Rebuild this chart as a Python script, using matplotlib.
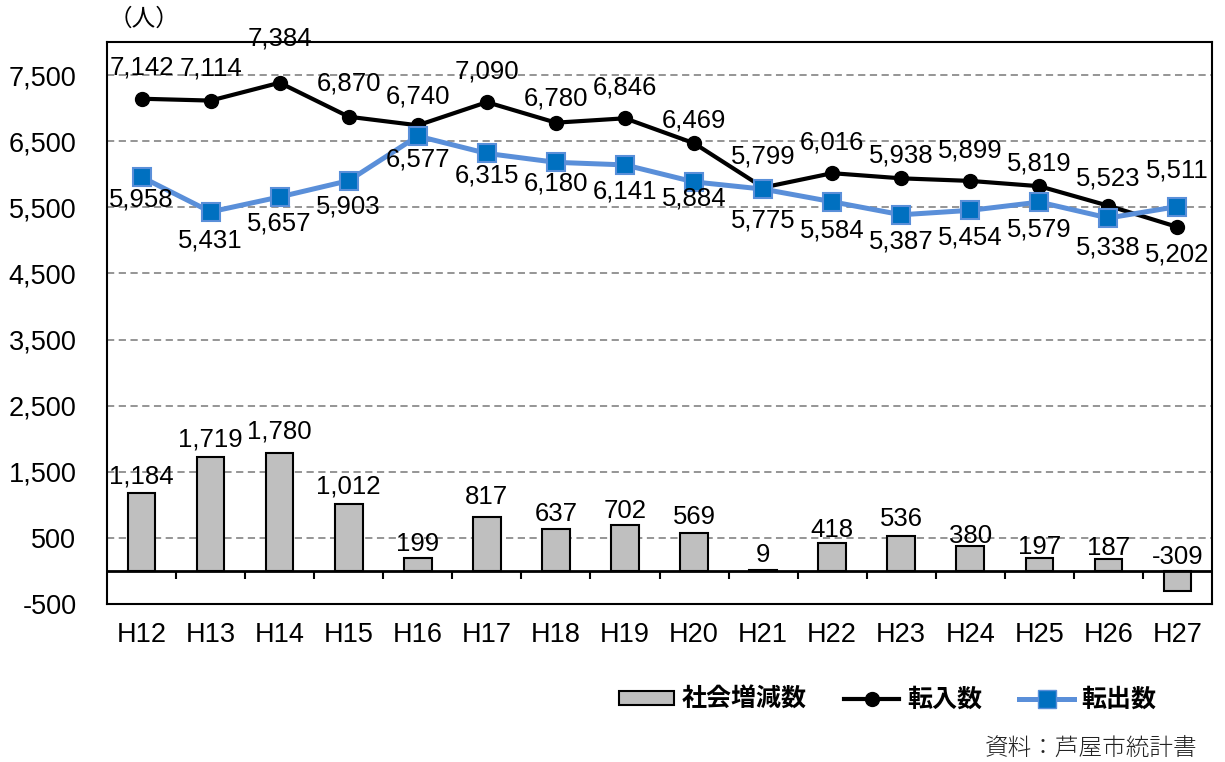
import matplotlib
matplotlib.use("Agg")
import matplotlib.pyplot as plt
from matplotlib.lines import Line2D
from matplotlib.patches import Patch
import matplotlib.transforms as mtransforms

plt.rcParams['font.family'] = ['Liberation Sans', 'Noto Sans CJK JP', 'DejaVu Sans']

categories = ["H12", "H13", "H14", "H15", "H16", "H17", "H18", "H19",
              "H20", "H21", "H22", "H23", "H24", "H25", "H26", "H27"]
social_change = [1184, 1719, 1780, 1012, 199, 817, 637, 702,
                 569, 9, 418, 536, 380, 197, 187, -309]
moved_in = [7142, 7114, 7384, 6870, 6740, 7090, 6780, 6846,
            6469, 5799, 6016, 5938, 5899, 5819, 5523, 5202]
moved_out = [5958, 5431, 5657, 5903, 6577, 6315, 6180, 6141,
             5884, 5775, 5584, 5387, 5454, 5579, 5338, 5511]
yticks = [-500, 500, 1500, 2500, 3500, 4500, 5500, 6500, 7500]
legend_labels = ["社会増減数", "転入数", "転出数"]
unit_label = "（人）"
source_label = "資料：芦屋市統計書"

# label offsets in pixels (vertical, label centre relative to anchor)
bar_off = [16, 18, 22, 18, 14, 20, 15, 14, 16, 15, 13, 17, 10, 11, 11, 14]
in_off = [31, 32, 44, 33, 29, 31, 24, 31, 23, 31, 31, 23, 30, 23, 27, -28]
out_off = [-22, -29, -27, -26, -23, -22, -21, -27, -17, -31, -29, -27, -27, -27, -29, 36]

W, H = 1225, 762
fig = plt.figure(figsize=(W / 100, H / 100), dpi=100)
ax = fig.add_axes([107 / W, 1 - 604 / H, (1212 - 107) / W, (604 - 42) / H])

x = list(range(len(categories)))
ax.set_xlim(-0.5, len(categories) - 0.5)
ax.set_ylim(-500, 8000)

# grid
for yv in yticks[1:]:
    ax.axhline(yv, color='#8c8c8c', lw=1.3, ls=(0, (4, 2.5)), zorder=1)

ax.bar(x, social_change, width=0.4, color='#bfbfbf', edgecolor='black',
       linewidth=1.5, zorder=3)
ax.axhline(0, color='black', lw=2, zorder=4)

# tick marks at category boundaries on zero line
trans = mtransforms.blended_transform_factory(ax.transData, ax.transAxes)
y0 = 500 / 8500
tick_len = 8 / 562
for b in range(1, len(categories)):
    ax.plot([b - 0.5, b - 0.5], [y0, y0 - tick_len], color='black', lw=1.5,
            transform=trans, zorder=4, solid_capstyle='butt')

ax.plot(x, moved_in, color='black', lw=3, marker='o', markersize=10,
        markerfacecolor='black', markeredgecolor='black', zorder=5)
ax.plot(x, moved_out, color='#5a8fd9', lw=3.6, marker='s', markersize=12.5,
        markerfacecolor='#0070c0', markeredgecolor='#5a8fd9', markeredgewidth=1.5,
        zorder=6)

fs_lab = 18.5
for i, v in enumerate(social_change):
    top = max(v, 0)
    ax.annotate(f"{v:,}", (i, top), xytext=(0, bar_off[i]), textcoords='offset pixels',
                ha='center', va='center', fontsize=fs_lab, zorder=7)
for i, v in enumerate(moved_in):
    ax.annotate(f"{v:,}", (i, v), xytext=(0, in_off[i]), textcoords='offset pixels',
                ha='center', va='center', fontsize=fs_lab, zorder=7)
for i, v in enumerate(moved_out):
    ax.annotate(f"{v:,}", (i, v), xytext=(0, out_off[i]), textcoords='offset pixels',
                ha='center', va='center', fontsize=fs_lab, zorder=7)

ax.set_yticks(yticks)
ax.set_yticklabels([f"{t:,}" for t in yticks], fontsize=19.5)
ax.set_xticks(x)
ax.set_xticklabels(categories, fontsize=19.5)
ax.tick_params(axis='x', length=0, pad=13)
ax.tick_params(axis='y', length=0, pad=22)
for s in ax.spines.values():
    s.set_color('black')
    s.set_linewidth(1.5)

fig.text(144 / W, 1 - 19 / H, unit_label, ha='center', va='center', fontsize=17,
         family=['Noto Sans CJK JP'])

handles = [Patch(facecolor='#bfbfbf', edgecolor='black', linewidth=1.5),
           Line2D([], [], color='black', lw=3, marker='o', markersize=10),
           Line2D([], [], color='#5a8fd9', lw=3.6, marker='s', markersize=12.5,
                  markerfacecolor='#0070c0', markeredgecolor='#5a8fd9')]
leg = fig.legend(handles, legend_labels, loc='center', bbox_to_anchor=(888 / W, 1 - 700 / H),
                 ncol=3, frameon=False, handlelength=2.2, handleheight=0.5,
                 handletextpad=0.3, columnspacing=1.5, borderpad=0,
                 prop={'family': ['Noto Sans CJK JP'], 'size': 18, 'weight': 'bold'})

fig.text(1197 / W, 1 - 748 / H, source_label, ha='right', va='center', fontsize=17,
         color='#222222', family=['Noto Sans CJK JP'], fontweight='light')

fig.savefig("out.png", dpi=100)
